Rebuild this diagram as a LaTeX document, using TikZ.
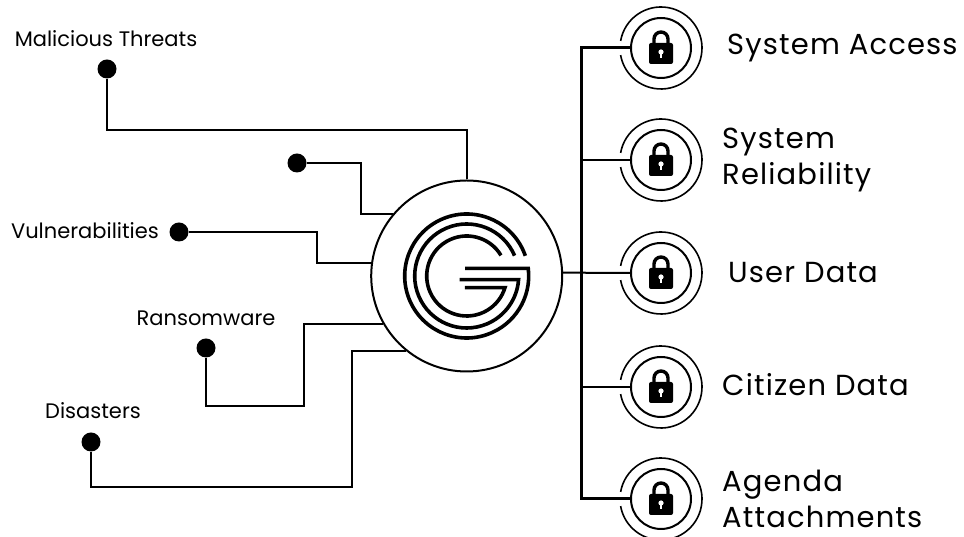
\documentclass[tikz,border=0pt]{standalone}
\usepackage{xcolor}
\usepackage{fontspec}
\setmainfont{Poppins}
\definecolor{ink}{HTML}{000000}
\tikzset{
  threat/.style={circle,fill=ink,minimum size=19pt,inner sep=0pt},
  wire/.style={ink,line width=2pt,line join=miter},
  trunk/.style={ink,line width=3pt},
  gline/.style={ink,line width=3.6pt},
  tag/.style={font=\fontsize{21}{24}\selectfont,inner sep=0pt,text=ink},
  asset/.style={font=\addfontfeature{LetterSpace=4}\fontsize{29}{36}\selectfont,inner sep=0pt,align=left,anchor=west,text=ink},
  guard/.style={circle,draw=ink,line width=2pt,minimum size=60pt,inner sep=0pt},
  padlock/.pic={
    \draw[ink,line width=3.4pt] (-7,3) -- (-7,9) arc[start angle=180,end angle=0,radius=7pt] -- (7,3);
    \fill[ink,rounded corners=2pt] (-12,-16) rectangle (12,5);
    \fill[white] (0,-4) circle (2.6pt);
    \fill[white] (-1.2,-10) rectangle (1.2,-4);
  }
}
\begin{document}
\begin{tikzpicture}[x=1pt,y=1pt]
  \useasboundingbox (0,0) rectangle (964,537);
  % centre disc with the G
  \node[circle,draw=ink,line width=2pt,minimum size=191pt,inner sep=0pt] (core) at (466.7,261) {};
  \draw[gline] (core.center) ++(19:62pt) arc[start angle=19,end angle=367,radius=62pt] -- ++(-63,0);
  \draw[gline] (core.center) ++(23:52pt) arc[start angle=23,end angle=356,radius=52pt] -- ++(-59,0);
  \draw[gline] (core.center) ++(31:40pt) arc[start angle=31,end angle=343,radius=40pt] -- ++(-40,0);
  % threats on the left
  \node[threat] (malicious) at (107,468) {};
  \node[threat] (unnamed) at (297,374) {};
  \node[threat] (vulner) at (179,305) {};
  \node[threat] (ransom) at (206,189) {};
  \node[threat] (disaster) at (91,95) {};
  \node[tag] at (106,498) {Malicious Threats};
  \node[tag] at (85,306) {Vulnerabilities};
  \node[tag] at (206,219) {Ransomware};
  \node[tag] at (93,126) {Disasters};
  \draw[wire] (malicious) -- ++(0,-61) -| (core.north);
  \draw[wire] (unnamed) -| ([xshift=-32pt]core.140) -- (core.140);
  \draw[wire] (vulner) -| ([xshift=-54pt]core.172) -- (core.172);
  \draw[wire] (ransom) -- ++(0,-58) -| ([xshift=-79pt]core.210) -- (core.210);
  \draw[wire] (disaster) -- ++(0,-45) -| ([xshift=-54pt]core.231) -- (core.231);
  % guarded assets on the right
  \foreach \n/\y in {access/489,reliab/377,user/264,citizen/150,agenda/38} {
    \node[guard] (\n) at (661,\y) {};
    \draw[ink,line width=1.6pt] (\n.center) ++(170:41pt) arc[start angle=170,end angle=-170,radius=41pt];
    \pic at (\n.center) {padlock};
  }
  \coordinate (trunktop) at (581,489);
  \coordinate (trunkbot) at (581,38);
  \draw[trunk] (access.west) -- (trunktop) -- (trunkbot) -- (agenda.west);
  \draw[wire] (reliab.west) -- (reliab.west -| trunktop);
  \draw[wire] (citizen.west) -- (citizen.west -| trunktop);
  \draw[wire] (core.2) -- (user.west);
  \node[asset] at (727,489) {System Access};
  \node[asset] at (722,377) {System\\Reliability};
  \node[asset] at (728,264) {User Data};
  \node[asset] at (722,152) {Citizen Data};
  \node[asset] at (722,38) {Agenda\\Attachments};
\end{tikzpicture}
\end{document}
